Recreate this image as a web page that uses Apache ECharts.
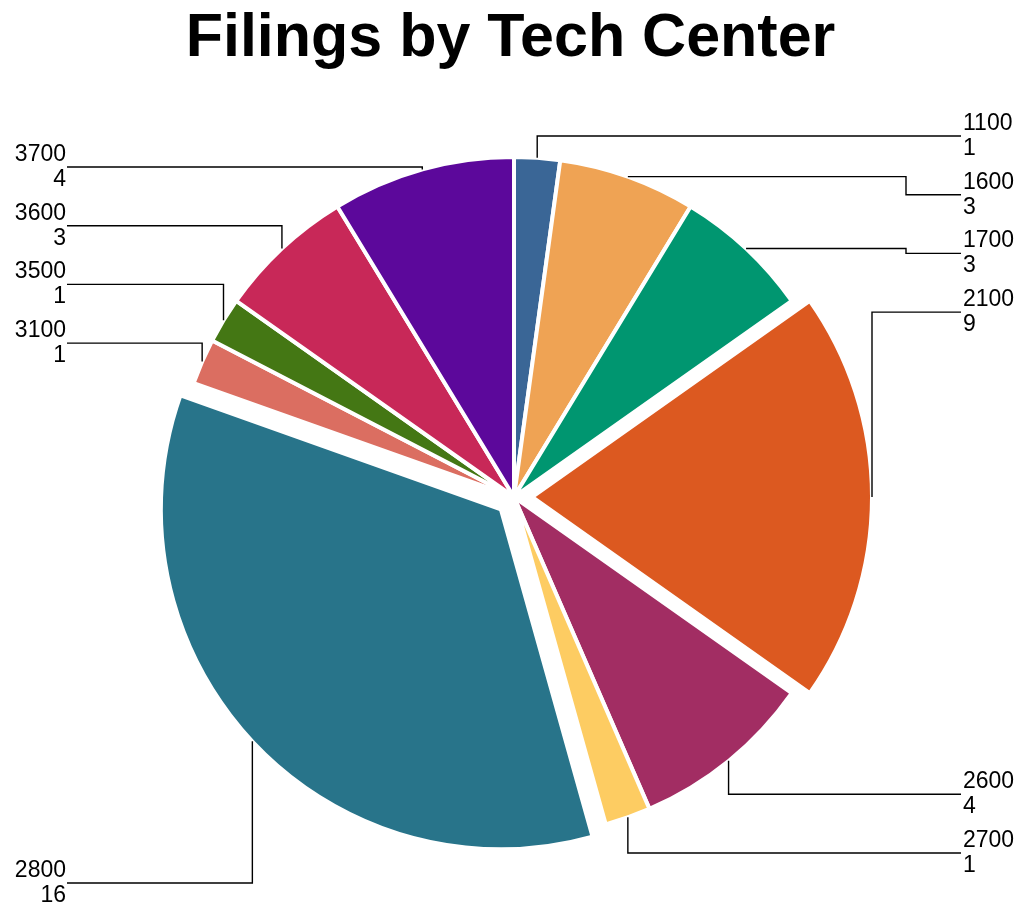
<!DOCTYPE html>
<html>
<head>
<meta charset="utf-8">
<title>Filings by Tech Center</title>
<script src="https://cdn.jsdelivr.net/npm/echarts@6/dist/echarts.min.js"></script>
<style>
    html, body { margin: 0; padding: 0; background: #fff; }
    #main { width: 1021px; height: 907px; }
</style>
</head>
<body>
<div id="main"></div>
<script>
// data
var techCenters = ['1100', '1600', '1700', '2100', '2600', '2700', '2800', '3100', '3500', '3600', '3700'];
var filings = [1, 3, 3, 9, 4, 1, 16, 1, 1, 3, 4];
var sliceColors = ['#3A6696', '#EFA354', '#009670', '#DC5920', '#A22D63', '#FDCC62',
                   '#28748A', '#DB6E61', '#447714', '#C82858', '#5C089B'];
var pulledCenters = ['2100', '2800'];

var myChart = echarts.init(document.getElementById('main'));

var pieCenter = [514, 497];
var pieRadius = 340;
var pullOffset = 18;
var fontFam = 'Arial, "Liberation Sans", Helvetica, sans-serif';

// label rows: stacked top-down / bottom-up on each side
var total = filings.reduce(function (a, b) { return a + b; }, 0);
var labelY = [];
(function () {
    var acc = 0;
    var groups = { rt: [], rb: [], lt: [], lb: [] };
    filings.forEach(function (v, i) {
        var mid = (acc + v / 2) / total * Math.PI * 2;
        acc += v;
        var key = (Math.sin(mid) > 0 ? 'r' : 'l') + (Math.cos(mid) > -0.01 ? 't' : 'b');
        groups[key].push(i);
    });
    var step = 58.7;
    groups.rt.forEach(function (idx, k) { labelY[idx] = 136 + k * step; });
    groups.rb.slice().reverse().forEach(function (idx, k) { labelY[idx] = 853 - k * step; });
    groups.lt.slice().reverse().forEach(function (idx, k) { labelY[idx] = 167 + k * step; });
    groups.lb.forEach(function (idx, k) { labelY[idx] = 883 - k * step; });
})();

var sliceData = techCenters.map(function (name, i) {
    return {
        name: name,
        value: filings[i],
        selected: pulledCenters.indexOf(name) >= 0,
        itemStyle: { color: sliceColors[i] }
    };
});

var labelData = techCenters.map(function (name, i) {
    return { name: name, value: filings[i] };
});

var option = {
    animation: false,
    title: {
        text: 'Filings by Tech Center',
        left: 'center',
        top: 4,
        textStyle: { fontSize: 61, fontWeight: 'bold', color: '#000', fontFamily: fontFam }
    },
    series: [
        {
            // slices
            type: 'pie',
            center: pieCenter,
            radius: pieRadius,
            startAngle: 90,
            clockwise: true,
            selectedMode: 'multiple',
            selectedOffset: pullOffset,
            silent: true,
            label: { show: false },
            labelLine: { show: false },
            itemStyle: { borderColor: '#fff', borderWidth: 4 },
            emphasis: { disabled: true },
            data: sliceData
        },
        {
            // labels + leader lines
            type: 'pie',
            center: pieCenter,
            radius: pieRadius,
            startAngle: 90,
            clockwise: true,
            silent: true,
            z: 5,
            itemStyle: { color: 'rgba(0,0,0,0)', borderWidth: 0 },
            emphasis: { disabled: true },
            label: {
                show: true,
                formatter: '{b}\n{c}',
                color: '#000',
                fontSize: 23,
                lineHeight: 25,
                fontFamily: fontFam
            },
            labelLine: {
                show: true,
                lineStyle: { color: '#000', width: 1.4 }
            },
            labelLayout: function (params) {
                var i = params.dataIndex;
                if (!params.labelLinePoints) return {};
                var p = params.labelLinePoints[0].slice();
                var dx = p[0] - pieCenter[0];
                var dy = p[1] - pieCenter[1];
                var len = Math.sqrt(dx * dx + dy * dy) || 1;
                if (pulledCenters.indexOf(techCenters[i]) >= 0) {
                    p[0] += dx / len * pullOffset;
                    p[1] += dy / len * pullOffset;
                }
                var right = dx > 0;
                var y = labelY[i];
                var endX = right ? 961 : 67;
                var pts;
                if (right && Math.abs(p[1] - y) < 20) {
                    var ex = endX - 55;
                    pts = [p, [ex, p[1]], [ex, y], [endX, y]];
                } else {
                    pts = [p, [p[0], y], [endX, y]];
                }
                return {
                    x: right ? 963 : 66,
                    y: y,
                    align: right ? 'left' : 'right',
                    verticalAlign: 'middle',
                    labelLinePoints: pts
                };
            },
            data: labelData
        }
    ]
};

myChart.setOption(option);
</script>
</body>
</html>
